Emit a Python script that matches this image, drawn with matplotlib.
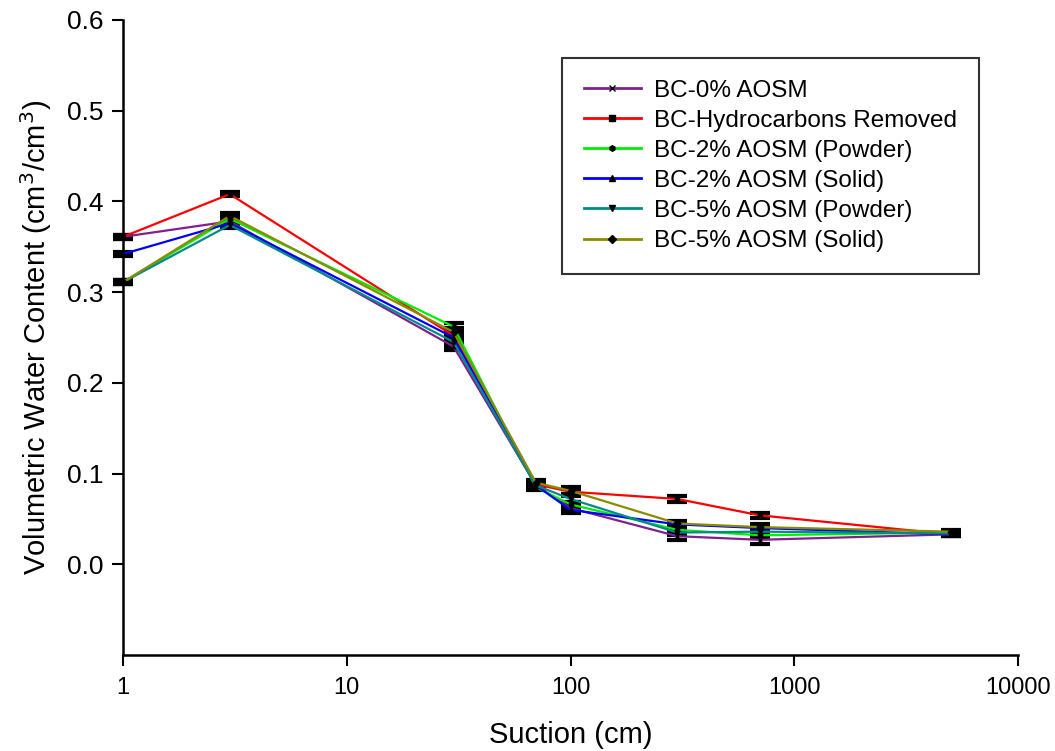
import numpy as np
import matplotlib.pyplot as plt
from matplotlib.lines import Line2D

plt.rcParams['font.family'] = ['Liberation Sans', 'DejaVu Sans']

suction = [1, 3, 30, 70, 100, 300, 700, 5000]

labels = ["BC-0% AOSM", "BC-Hydrocarbons Removed", "BC-2% AOSM (Powder)",
          "BC-2% AOSM (Solid)", "BC-5% AOSM (Powder)", "BC-5% AOSM (Solid)"]

bc_0 = [0.361, 0.378, 0.240, 0.087, 0.062, 0.031, 0.027, 0.033]
bc_hc = [0.361, 0.408, 0.252, 0.088, 0.080, 0.072, 0.054, 0.033]
bc_2p = [0.311, 0.381, 0.262, 0.085, 0.066, 0.038, 0.032, 0.035]
bc_2s = [0.342, 0.376, 0.250, 0.087, 0.060, 0.044, 0.040, 0.033]
bc_5p = [0.311, 0.374, 0.245, 0.087, 0.072, 0.035, 0.036, 0.034]
bc_5s = [0.311, 0.384, 0.256, 0.090, 0.081, 0.045, 0.041, 0.036]

err_0 = [0.002, 0.002, 0.004, 0.003, 0.003, 0.004, 0.005, 0.002]
err_hc = [0.002, 0.002, 0.004, 0.003, 0.003, 0.003, 0.003, 0.002]
err_2p = [0.002, 0.003, 0.004, 0.003, 0.003, 0.003, 0.003, 0.002]
err_2s = [0.002, 0.003, 0.004, 0.003, 0.003, 0.003, 0.003, 0.002]
err_5p = [0.002, 0.003, 0.004, 0.003, 0.003, 0.003, 0.003, 0.002]
err_5s = [0.002, 0.003, 0.004, 0.003, 0.004, 0.003, 0.003, 0.002]

series = [bc_0, bc_hc, bc_2p, bc_2s, bc_5p, bc_5s]
errors = [err_0, err_hc, err_2p, err_2s, err_5p, err_5s]
colors = ['#80208f', '#ff0000', '#00ee00', '#0000ff', '#008b8b', '#8b8b00']
markers = ['x', 's', 'h', '^', 'v', 'D']

fig = plt.figure(figsize=(10.55, 7.51), dpi=100)
ax = fig.add_axes([0.1166, 0.1278, 0.8484, 0.8456])

handles = []
for vals, err, c, m, lab in zip(series, errors, colors, markers, labels):
    ax.errorbar(suction, vals, yerr=err, color=c, lw=1.6, marker=m,
                ms=3.5, mfc='black', mec='black', ecolor='black',
                elinewidth=1.5, capsize=7.5, capthick=3, clip_on=False)
    handles.append(Line2D([], [], color=c, lw=2, marker=m, ms=4,
                          mfc='black', mec='black', label=lab))

ax.set_xscale('log')
ax.set_xlim(1, 10000)
ax.set_ylim(-0.1, 0.6)
ax.set_xticks([1, 10, 100, 1000, 10000])
ax.set_xticklabels(['1', '10', '100', '1000', '10000'])
ax.set_yticks([0.0, 0.1, 0.2, 0.3, 0.4, 0.5, 0.6])
ax.set_yticklabels(['0.0', '0.1', '0.2', '0.3', '0.4', '0.5', '0.6'])
ax.minorticks_off()
ax.tick_params(length=8, width=1.5, direction='out')
ax.tick_params(axis='x', labelsize=17, pad=8)
ax.tick_params(axis='y', labelsize=19, pad=6)
ax.spines['top'].set_visible(False)
ax.spines['right'].set_visible(False)
ax.spines['left'].set_linewidth(1.8)
ax.spines['bottom'].set_linewidth(1.8)

ax.set_xlabel("Suction (cm)", fontsize=21, labelpad=16)
ax.set_ylabel("Volumetric Water Content (cm$^3$/cm$^3$)", fontsize=21, labelpad=9)

leg = fig.legend(handles=handles, loc='upper left', bbox_to_anchor=(0.5327, 0.9228),
                 fontsize=17.5, frameon=True, fancybox=False, edgecolor='black',
                 handlelength=2.35, handletextpad=0.55, borderpad=0.9,
                 labelspacing=0.33, borderaxespad=0)
leg.get_frame().set_linewidth(1.5)

fig.savefig('out.png', dpi=100)
